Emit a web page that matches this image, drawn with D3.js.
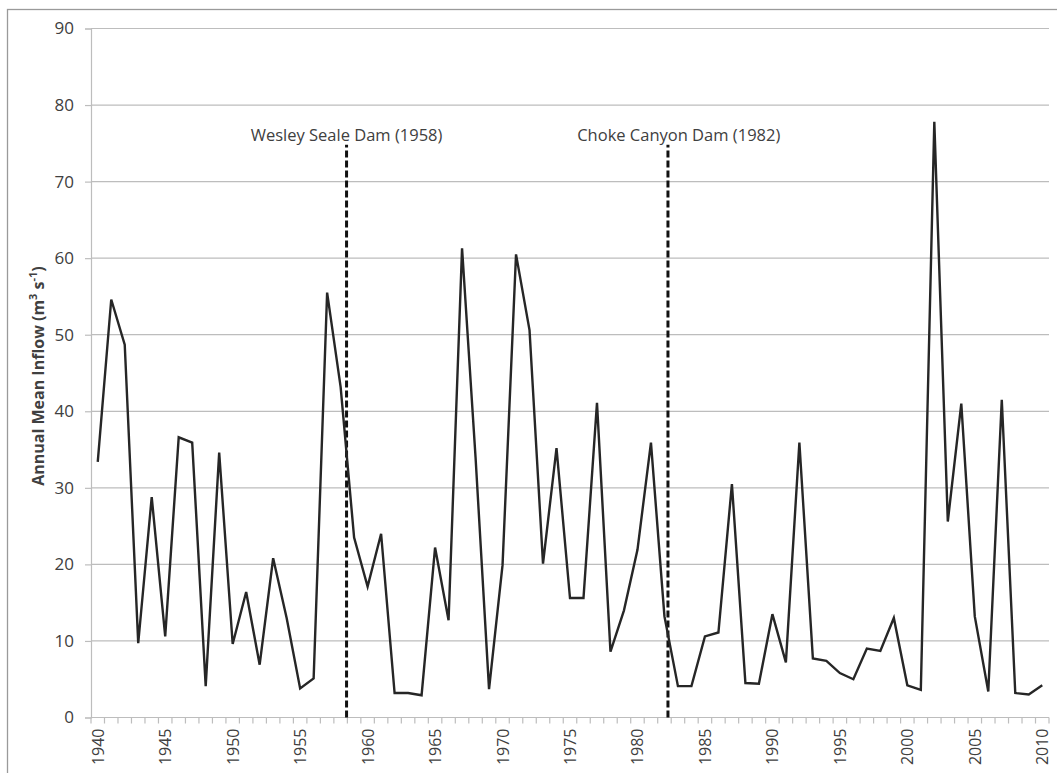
<!DOCTYPE html>
<html>
<head>
<meta charset="utf-8">
<script src="https://cdn.jsdelivr.net/npm/d3@7"></script>
<style>
  body { margin: 0; background: #fff; }
  text { font-family: "Open Sans", sans-serif; fill: #404040; }
</style>
</head>
<body>
<div id="container"></div>
<script>
// annual mean inflow, 1940 - 2010
let years = d3.range(1940, 2011)
let inflow = [
  33.4, 54.6, 48.7, 9.7, 28.8, 10.6, 36.6, 35.9, 4.1, 34.6,
  9.6, 16.4, 6.9, 20.8, 13.0, 3.8, 5.1, 55.5, 43.2, 23.5,
  17.1, 24.0, 3.2, 3.2, 2.9, 22.2, 12.7, 61.3, 34.0, 3.7,
  19.9, 60.5, 50.6, 20.1, 35.2, 15.6, 15.6, 41.1, 8.6, 14.0,
  21.9, 35.9, 13.2, 4.1, 4.1, 10.6, 11.1, 30.5, 4.5, 4.4,
  13.5, 7.2, 35.9, 7.7, 7.4, 5.8, 5.0, 9.0, 8.7, 13.0,
  4.2, 3.6, 77.8, 25.6, 41.0, 13.2, 3.4, 41.5, 3.2, 3.0,
  4.2
]
let yTicks = [0, 10, 20, 30, 40, 50, 60, 70, 80, 90]
let xLabels = [1940, 1945, 1950, 1955, 1960, 1965, 1970, 1975, 1980, 1985, 1990, 1995, 2000, 2005, 2010]

let damNames = ['Wesley Seale Dam (1958)', 'Choke Canyon Dam (1982)']
let damYears = [1958.44, 1982.26]
let damLabelYears = [1958.44, 1983.06]
let damTop = 74.8

let width = 1057
let height = 773
let margin = {top: 28.5, right: 8, bottom: 55.5, left: 91}

function main() {
    let svg = d3.select('#container').append('svg')
      .attr('width', width)
      .attr('height', height)

    // outer chart frame
    svg.append('rect')
      .attr('x', 7.5).attr('y', 9.5)
      .attr('width', width + 20).attr('height', height + 20)
      .attr('fill', 'none')
      .attr('stroke', '#9a9a9a')
      .attr('stroke-width', 1.3)

    let xBand = d3.scaleBand()
      .domain(years)
      .range([margin.left, width - margin.right])

    let step = xBand.step()
    let xCenter = y => xBand(y) + step / 2

    // continuous year scale, for the dam markers
    let xYear = d3.scaleLinear()
      .domain([1940, 2010])
      .range([xCenter(1940), xCenter(2010)])

    let yScale = d3.scaleLinear()
      .domain([0, 90])
      .range([height - margin.bottom, margin.top])

    // gridlines
    svg.append('g')
      .selectAll('line')
      .data(yTicks.filter(d => d > 0))
      .enter()
      .append('line')
      .attr('x1', margin.left)
      .attr('x2', width - margin.right)
      .attr('y1', d => yScale(d))
      .attr('y2', d => yScale(d))
      .attr('stroke', '#bdbdbd')
      .attr('stroke-width', 1.2)

    let yAxis = d3.axisLeft(yScale)
      .tickValues(yTicks)
      .tickSize(6)
      .tickPadding(11)

    let gy = svg.append('g')
      .attr('transform', `translate(${margin.left},0)`)
      .call(yAxis)
    gy.select('.domain').attr('stroke', '#bdbdbd').attr('stroke-width', 1.2)
    gy.selectAll('.tick line').attr('stroke', '#bdbdbd').attr('stroke-width', 1.2)
    gy.selectAll('.tick text')
      .style('font-size', '17px')
      .attr('fill', '#404040')

    // x axis: one tick per category boundary, labels every 5 years
    let boundaries = years.map(y => xBand(y)).concat([width - margin.right])
    let xAxisG = svg.append('g')
    xAxisG.append('line')
      .attr('x1', margin.left).attr('x2', width - margin.right)
      .attr('y1', yScale(0)).attr('y2', yScale(0))
      .attr('stroke', '#bdbdbd').attr('stroke-width', 1.2)
    xAxisG.selectAll('.xtick')
      .data(boundaries)
      .enter()
      .append('line')
      .attr('class', 'xtick')
      .attr('x1', d => d).attr('x2', d => d)
      .attr('y1', yScale(0)).attr('y2', yScale(0) + 6)
      .attr('stroke', '#bdbdbd').attr('stroke-width', 1.2)
    xAxisG.selectAll('.xlabel')
      .data(xLabels)
      .enter()
      .append('text')
      .attr('class', 'xlabel')
      .attr('transform', d => `translate(${xCenter(d) + 6},${yScale(0) + 11}) rotate(-90)`)
      .attr('text-anchor', 'end')
      .style('font-size', '16px')
      .text(d => d)

    // y axis title
    let title = svg.append('text')
      .attr('transform', `translate(44,${(yScale(0) + yScale(90)) / 2 + 3}) rotate(-90)`)
      .attr('text-anchor', 'middle')
      .style('font-size', '16px')
      .style('font-weight', 'bold')
    title.append('tspan').text('Annual Mean Inflow (m')
    title.append('tspan').attr('dy', -7).style('font-size', '11px').text('3')
    title.append('tspan').attr('dy', 7).text(' s')
    title.append('tspan').attr('dy', -7).style('font-size', '11px').text('-1')
    title.append('tspan').attr('dy', 7).text(')')

    // dam markers
    svg.selectAll('.dam')
      .data(damYears)
      .enter()
      .append('line')
      .attr('class', 'dam')
      .attr('x1', d => xYear(d)).attr('x2', d => xYear(d))
      .attr('y1', yScale(0)).attr('y2', yScale(damTop))
      .attr('stroke', '#111')
      .attr('stroke-width', 3)
      .attr('stroke-dasharray', '7,3')

    svg.selectAll('.damlabel')
      .data(damNames)
      .enter()
      .append('text')
      .attr('class', 'damlabel')
      .attr('x', (d, i) => xYear(damLabelYears[i]))
      .attr('y', yScale(damTop) - 4)
      .attr('text-anchor', 'middle')
      .style('font-size', '16.5px')
      .text(d => d)

    // the series
    let line = d3.line()
      .x((d, i) => xCenter(years[i]))
      .y(d => yScale(d))

    svg.append('path')
      .datum(inflow)
      .attr('d', line)
      .attr('fill', 'none')
      .attr('stroke', '#262626')
      .attr('stroke-width', 2.4)
      .attr('stroke-linejoin', 'miter')
}

main()
</script>
</body>
</html>
